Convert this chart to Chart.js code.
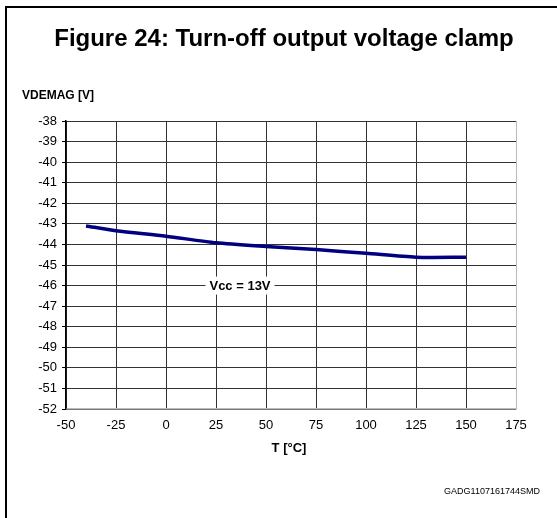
<!DOCTYPE html>
<html>
<head>
<meta charset="utf-8">
<script src="https://cdn.jsdelivr.net/npm/chart.js@4"></script>
<style>
html, body { margin: 0; padding: 0; background: #fff; }
#wrap { width: 557px; height: 518px; position: relative; }
</style>
</head>
<body>
<div id="wrap"><canvas id="chart" width="557" height="518"></canvas></div>
<script>
// temperature (°C) and clamp voltage (V)
const temps = [-40, -25, 0, 25, 50, 75, 100, 125, 150];
const vdemag = [-43.1, -43.33, -43.6, -43.92, -44.1, -44.25, -44.43, -44.62, -44.62];
const xTicks = [-50, -25, 0, 25, 50, 75, 100, 125, 150, 175];
const yTicks = [-38, -39, -40, -41, -42, -43, -44, -45, -46, -47, -48, -49, -50, -51, -52];
const seriesLabel = 'Vcc = 13V';
const labelAt = [37, -46];

const titleText = 'Figure 24: Turn-off output voltage clamp';
const yTitle = 'VDEMAG [V]';
const xTitle = 'T [°C]';
const codeText = 'GADG1107161744SMD';

const font = '"Liberation Sans", Arial, sans-serif';

const decor = {
    id: 'decor',
    beforeDraw(chart) {
        const c = chart.ctx;
        c.save();
        c.fillStyle = '#fff';
        c.fillRect(0, 0, chart.width, chart.height);
        // page frame (only top and left show)
        c.fillStyle = '#000';
        c.fillRect(5, 6, 557, 2);
        c.fillRect(5, 6, 2, 518);
        c.restore();
    },
    afterDatasetsDraw(chart) {
        const c = chart.ctx;
        const xs = chart.scales.x, ys = chart.scales.y;
        c.save();
        // series label with white box
        const px = xs.getPixelForValue(labelAt[0]);
        const py = ys.getPixelForValue(labelAt[1]);
        c.font = 'bold 13px ' + font;
        const w = c.measureText(seriesLabel).width;
        c.fillStyle = '#fff';
        c.fillRect(px - w / 2 - 4, py - 9, w + 8, 18);
        c.fillStyle = '#000';
        c.textAlign = 'center';
        c.textBaseline = 'middle';
        c.fillText(seriesLabel, px, py + 1);

        c.font = 'bold 24px ' + font;
        c.textBaseline = 'alphabetic';
        c.fillText(titleText, 284, 46);

        c.font = 'bold 12px ' + font;
        c.textAlign = 'left';
        c.fillText(yTitle, 22, 99);

        c.font = 'bold 13px ' + font;
        c.textAlign = 'center';
        c.fillText(xTitle, 289, 452);

        c.font = '9px ' + font;
        c.textAlign = 'right';
        c.fillText(codeText, 540, 494);
        c.restore();
    }
};

new Chart(document.getElementById('chart'), {
    type: 'line',
    data: {
        datasets: [{
            data: temps.map((t, i) => ({ x: t, y: vdemag[i] })),
            borderColor: '#000080',
            borderWidth: 3.5,
            pointRadius: 0,
            tension: 0.25,
            fill: false
        }]
    },
    options: {
        responsive: false,
        animation: false,
        events: [],
        layout: { padding: { left: 0, top: 121, right: 41, bottom: 0 } },
        plugins: { legend: { display: false }, tooltip: { enabled: false }, title: { display: false } },
        scales: {
            x: {
                type: 'linear',
                min: -50,
                max: 175,
                afterBuildTicks: s => { s.ticks = xTicks.map(v => ({ value: v })); },
                afterFit: s => { s.height = 109; },
                grid: {
                    drawTicks: false,
                    color: ctx => ctx.tick && ctx.tick.value === 175 ? '#bbb' : '#333',
                    lineWidth: 1
                },
                border: { color: '#bbb', width: 1.5 },
                ticks: {
                    padding: 9,
                    autoSkip: false,
                    maxRotation: 0,
                    color: '#000',
                    font: { family: font, size: 13 }
                }
            },
            y: {
                type: 'linear',
                min: -52,
                max: -38,
                afterBuildTicks: s => { s.ticks = yTicks.map(v => ({ value: v })); },
                afterFit: s => { s.width = 66; },
                grid: {
                    color: '#333',
                    lineWidth: 1,
                    tickLength: 4,
                    tickColor: '#000'
                },
                border: { color: '#000', width: 1.5 },
                ticks: {
                    padding: 5,
                    autoSkip: false,
                    color: '#000',
                    font: { family: font, size: 13 }
                }
            }
        }
    },
    plugins: [decor]
});
</script>
</body>
</html>
